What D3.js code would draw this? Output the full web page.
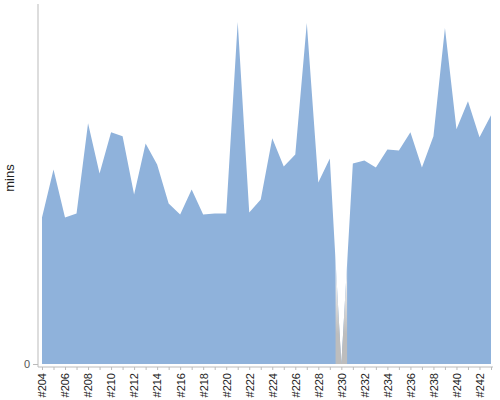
<!DOCTYPE html>
<html>
<head>
<meta charset="utf-8">
<script src="https://cdn.jsdelivr.net/npm/d3@7"></script>
<style>
  body { margin: 0; background: #fff; }
  text { font-family: "Liberation Sans", Arial, sans-serif; }
</style>
</head>
<body>
<svg id="chart"></svg>
<script>
// build numbers, one per point
const builds = d3.range(204, 244).map(n => "#" + n)
// duration in minutes (no scale on the axis)
const durations = [
  146, 194, 146, 150, 240, 190, 231, 227, 169, 220,
  199, 160, 149, 174, 149, 150, 150, 341, 151, 164,
  225, 197, 209, 340, 181, 205, 0, 200, 203, 196,
  214, 213, 231, 196, 227, 335, 234, 262, 226, 248
]
// builds with no data, drawn with the grey band
const missing = ["#230"]
const yTicks = [0]

const data = builds.map((b, i) => ({ build: b, mins: durations[i] }))

let dimensions = {
  width: 500, height: 400,
  margin: { top: 4, right: 9, bottom: 36, left: 42 },
}
dimensions.boundedWidth = dimensions.width - dimensions.margin.left - dimensions.margin.right
dimensions.boundedHeight = dimensions.height - dimensions.margin.top - dimensions.margin.bottom

const wrapper = d3.select("#chart")
  .attr("width", dimensions.width)
  .attr("height", dimensions.height)

const bounds = wrapper.append("g")
  .attr("transform", `translate(${dimensions.margin.left}, ${dimensions.margin.top})`)

const xScale = d3.scalePoint()
  .domain(builds)
  .range([0, dimensions.boundedWidth])

const yScale = d3.scaleLinear()
  .domain([0, 359])
  .range([dimensions.boundedHeight, 0])

const step = xScale.step()

const areaGenerator = d3.area()
  .x(d => xScale(d.build))
  .y0(yScale(0))
  .y1(d => yScale(d.mins))

// gradient for the gap (white at the top, grey at the bottom)
const defs = wrapper.append("defs")
const grad = defs.append("linearGradient")
  .attr("id", "gapGrad")
  .attr("gradientUnits", "userSpaceOnUse")
  .attr("x1", 0).attr("x2", 0)
  .attr("y1", yScale(100)).attr("y2", yScale(30))
grad.append("stop").attr("offset", 0).attr("stop-color", "#ffffff")
grad.append("stop").attr("offset", 1).attr("stop-color", "#bdbdbd")

missing.forEach((m, i) => {
  defs.append("clipPath").attr("id", "gapClip" + i)
    .append("rect")
    .attr("x", xScale(m) - step / 2)
    .attr("width", step)
    .attr("y", 0)
    .attr("height", dimensions.boundedHeight)
})

bounds.append("path")
  .attr("d", areaGenerator(data))
  .attr("fill", "#8fb2db")

missing.forEach((m, i) => {
  bounds.append("path")
    .attr("d", areaGenerator(data))
    .attr("fill", "url(#gapGrad)")
    .attr("clip-path", `url(#gapClip${i})`)
})

// y axis: plain line and a single 0 tick
const yAxis = bounds.append("g")
  .attr("transform", "translate(-4, 0)")
  .call(d3.axisLeft(yScale).tickValues(yTicks).tickSize(5).tickSizeOuter(0).tickPadding(3))
yAxis.select(".domain").attr("stroke", "#bbb")
  .attr("d", `M0,0V${dimensions.boundedHeight + 3}`)
yAxis.selectAll(".tick line").attr("stroke", "#bbb")
yAxis.selectAll(".tick text")
  .attr("font-size", 11)
  .attr("fill", "#555")
  .attr("font-family", "Liberation Sans, Arial, sans-serif")

// x axis, a tick for every build, label every other one
const xAxis = bounds.append("g")
  .attr("transform", `translate(0, ${dimensions.boundedHeight + 3})`)
  .call(d3.axisBottom(xScale).tickSize(3).tickSizeOuter(0)
    .tickFormat((d, i) => i % 2 === 0 ? d : ""))
xAxis.select(".domain").attr("stroke", "#bbb")
  .attr("d", `M-4,0H${dimensions.boundedWidth + 2}`)
xAxis.selectAll(".tick line").attr("stroke", "#bbb")
xAxis.selectAll(".tick text")
  .attr("font-size", 11)
  .attr("fill", "#222")
  .attr("font-family", "Liberation Sans, Arial, sans-serif")
  .attr("transform", "rotate(-90)")
  .attr("text-anchor", "end")
  .attr("x", -6)
  .attr("y", 0)
  .attr("dy", "0.35em")

wrapper.append("text")
  .attr("transform", `translate(14, 178) rotate(-90)`)
  .attr("text-anchor", "middle")
  .attr("font-size", 13)
  .attr("fill", "#222")
  .text("mins")
</script>
</body>
</html>
